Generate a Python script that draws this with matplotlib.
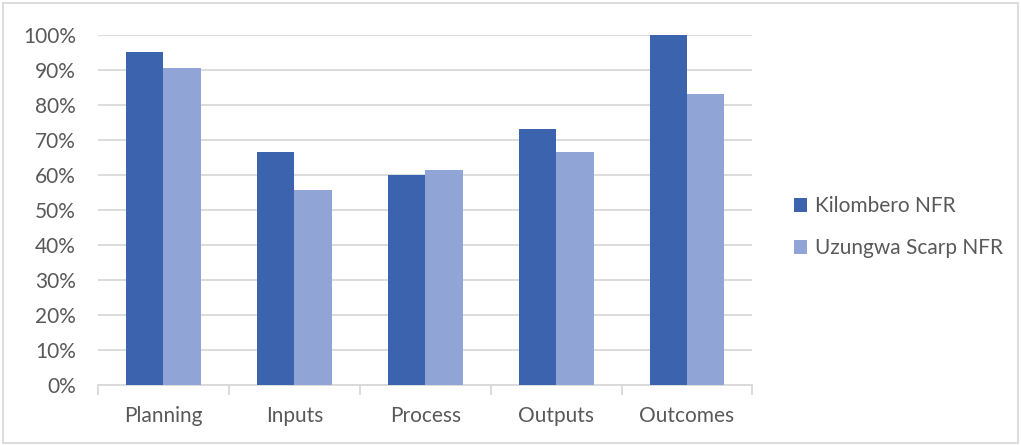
import matplotlib
matplotlib.use("Agg")
import matplotlib.pyplot as plt
from matplotlib.patches import Rectangle
import numpy as np

categories = ["Planning", "Inputs", "Process", "Outputs", "Outcomes"]
kilombero = [95.2, 66.7, 60.0, 73.3, 100.0]
uzungwa = [90.5, 55.6, 61.5, 66.7, 83.3]
series_names = ["Kilombero NFR", "Uzungwa Scarp NFR"]
y_ticks = [0, 10, 20, 30, 40, 50, 60, 70, 80, 90, 100]

plt.rcParams["font.family"] = ["Lato", "DejaVu Sans"]

fig = plt.figure(figsize=(10.21, 4.45), dpi=100)
ax = fig.add_axes([0.096, 0.135, 0.641, 0.786])

x = np.arange(len(categories))
w = 0.286
c_dark = "#3C64AE"
c_light = "#90A4D5"
ax.bar(x - w / 2, kilombero, w, color=c_dark, label=series_names[0], zorder=3)
ax.bar(x + w / 2, uzungwa, w, color=c_light, label=series_names[1], zorder=3)

ax.set_xlim(-0.5, len(categories) - 0.5)
ax.set_ylim(0, 100)
ax.set_yticks(y_ticks)
ax.set_yticklabels([f"{v}%" for v in y_ticks])
ax.yaxis.grid(True, color="#d9d9d9", linewidth=1.3, zorder=0)
ax.tick_params(axis="y", length=0, labelsize=15, colors="#595959", pad=16)

ax.set_xticks(x)
ax.set_xticklabels(categories)
ax.tick_params(axis="x", length=0, labelsize=15, colors="#595959", pad=15)
ax.set_xticks(np.arange(-0.5, len(categories)), minor=True)
ax.tick_params(axis="x", which="minor", length=7, color="#d9d9d9", width=1.3)

for s in ["top", "right", "left"]:
    ax.spines[s].set_visible(False)
ax.spines["bottom"].set_color("#d9d9d9")
ax.spines["bottom"].set_linewidth(1.3)

fig.legend(loc="center left", bbox_to_anchor=(0.759, 0.489), frameon=False,
           fontsize=15, labelcolor="#595959", handlelength=0.65, handleheight=0.65,
           handletextpad=0.35, labelspacing=1.05)

fig.patches.append(Rectangle((0.003, 0.005), 0.994, 0.988, transform=fig.transFigure,
                             fill=False, edgecolor="#d9d9d9", linewidth=1.3))

fig.savefig("out.png", dpi=100)
